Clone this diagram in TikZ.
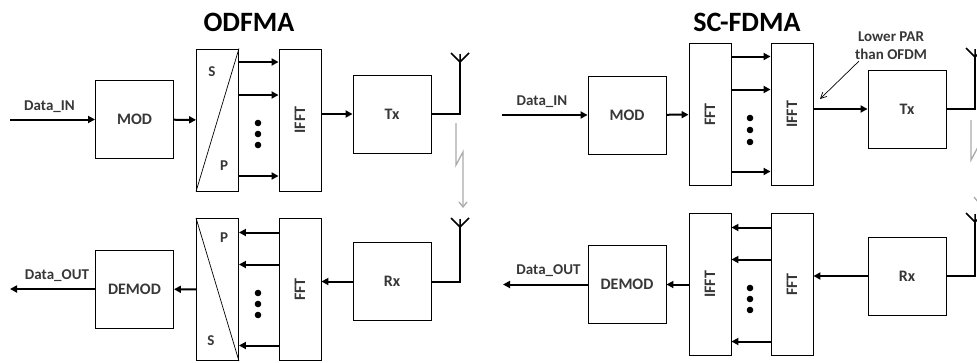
\documentclass[tikz,border=0pt]{standalone}
\usepackage{fontspec}
\setsansfont{Carlito}
\usepackage{graphicx}
\usepackage{tikz}
\usetikzlibrary{arrows.meta, positioning}
\definecolor{labelgray}{RGB}{55,55,55}
\definecolor{boltgray}{RGB}{170,170,170}
\tikzset{
    modblock/.style={rectangle, draw, line width=0.9pt, minimum width=78pt, minimum height=78pt, inner sep=0pt, font=\sffamily\bfseries\fontsize{16}{18}\selectfont, text=labelgray},
    fftblock/.style={rectangle, draw, line width=0.9pt, minimum width=42pt, minimum height=142pt, inner sep=0pt, font=\sffamily\bfseries\fontsize{16}{18}\selectfont, text=labelgray},
    sigarrow/.style={-{Triangle[length=7pt, width=7pt]}, line width=2pt},
    sigline/.style={line width=2pt},
    antarm/.style={line width=1.5pt},
    dataannot/.style={font=\sffamily\bfseries\fontsize{15}{18}\selectfont, text=labelgray, inner sep=0pt},
    spannot/.style={font=\sffamily\bfseries\fontsize{15}{17}\selectfont, text=labelgray, inner sep=0pt},
    titlelabel/.style={font=\sffamily\bfseries\fontsize{28}{30}\selectfont, inner sep=0pt},
    boltarrow/.style={-{Straight Barb[length=5pt, width=8pt]}, boltgray, line width=1.3pt},
    notearrow/.style={-{Straight Barb[length=6pt, width=6pt]}, line width=0.7pt}
}

\begin{document}
\begin{tikzpicture}[x=1pt, y=-1pt]
\useasboundingbox (0,0) rectangle (977,362);
\clip (0,0) rectangle (977,362);

\node[titlelabel] (ofdmatitle) at (249,22) {ODFMA};
\node[titlelabel] (scfdmatitle) at (747,22) {SC-FDMA};

% OFDMA transmitter
\coordinate (din1) at (10,119.5);
\node[dataannot] (din1lab) at (49.5,107) {Data\_IN};
\node[modblock] (mod1) at (134.5,119.5) {MOD};
\node[fftblock] (sp1) at (217.5,120) {};
\node[fftblock] (ifft1) at (300,120) {\rotatebox{90}{IFFT}};
\node[modblock] (tx1) at (392,114) {Tx};
\node[spannot] (sp1s) at (212,72) {S};
\node[spannot] (sp1p) at (224,166) {P};
\coordinate (ant1) at (460,62);

\draw[line width=0.7pt] (sp1.north east) -- (sp1.south west);
\draw[sigarrow] (din1) -- (mod1);
\draw[sigarrow] (mod1) -- (sp1);
\draw[sigarrow] ([yshift=58pt]sp1.east) -- ([yshift=58pt]ifft1.west);
\draw[sigarrow] ([yshift=25pt]sp1.east) -- ([yshift=25pt]ifft1.west);
\draw[sigarrow] ([yshift=-56pt]sp1.east) -- ([yshift=-56pt]ifft1.west);
\draw[sigarrow] (ifft1.east |- tx1.west) -- (tx1.west);
\draw[sigline] (tx1.east) -| (ant1);
\draw[antarm] (ant1) -- ++(-9,-9) (ant1) -- ++(9,-9) (ant1) -- ++(0,-8);
\fill (258,123) circle (3.3) (258,134) circle (3.3) (258,145) circle (3.3);

\draw[boltarrow] (456,123) -- (456,165) -- (463,152) -- (463,208);

% OFDMA receiver
\coordinate (dout1) at (10,289);
\node[dataannot] (dout1lab) at (57,276) {Data\_OUT};
\node[modblock] (demod1) at (134.5,289) {DEMOD};
\node[fftblock] (ps1) at (217.5,289.5) {};
\node[fftblock] (fft1) at (300,289.5) {\rotatebox{90}{FFT}};
\node[modblock] (rx1) at (392,281.5) {Rx};
\node[spannot] (ps1p) at (224,238) {P};
\node[spannot] (ps1s) at (211,341) {S};
\coordinate (ant2) at (460,227);

\draw[line width=0.7pt] (ps1.north west) -- (ps1.south east);
\draw[sigarrow] (demod1) -- (dout1);
\draw[sigarrow] (ps1) -- (demod1);
\draw[sigarrow] ([yshift=57pt]fft1.west) -- ([yshift=57pt]ps1.east);
\draw[sigarrow] ([yshift=25pt]fft1.west) -- ([yshift=25pt]ps1.east);
\draw[sigarrow] ([yshift=-56pt]fft1.west) -- ([yshift=-56pt]ps1.east);
\draw[sigarrow] (rx1.west) -- (fft1.east |- rx1.west);
\draw[sigline] (rx1.east) -| (ant2);
\draw[antarm] (ant2) -- ++(-9,-9) (ant2) -- ++(9,-9) (ant2) -- ++(0,-8);
\fill (258,293) circle (3.3) (258,304) circle (3.3) (258,315) circle (3.3);

% SC-FDMA transmitter
\coordinate (din2) at (502,115);
\node[dataannot] (din2lab) at (542,102) {Data\_IN};
\node[modblock] (mod2) at (627,115) {MOD};
\node[fftblock] (fft2) at (710,114.5) {\rotatebox{90}{FFT}};
\node[fftblock] (ifft2) at (792,114.5) {\rotatebox{90}{IFFT}};
\node[modblock] (tx2) at (907,109) {Tx};
\node[dataannot, align=center] (parnote) at (891,46) {Lower PAR\\than OFDM};
\coordinate (parpt) at (820,99);
\coordinate (ant3) at (975,57);

\draw[sigarrow] (din2) -- (mod2);
\draw[sigarrow] (mod2) -- (fft2);
\draw[sigarrow] ([yshift=58pt]fft2.east) -- ([yshift=58pt]ifft2.west);
\draw[sigarrow] ([yshift=25pt]fft2.east) -- ([yshift=25pt]ifft2.west);
\draw[sigarrow] ([yshift=-57pt]fft2.east) -- ([yshift=-57pt]ifft2.west);
\draw[sigarrow] (ifft2.east |- tx2.west) -- (tx2.west);
\draw[notearrow] ([xshift=4pt,yshift=-1pt]parnote.south west) -- (parpt);
\draw[sigline] (tx2.east) -| (ant3);
\draw[antarm] (ant3) -- ++(-9,-9) (ant3) -- ++(9,-9) (ant3) -- ++(0,-8);
\fill (750,118) circle (3.3) (750,130) circle (3.3) (750,142) circle (3.3);

\draw[boltarrow] (971,120) -- (971,160) -- (978,147) -- (978,203);

% SC-FDMA receiver
\coordinate (dout2) at (503,284.5);
\node[dataannot] (dout2lab) at (548.5,271) {Data\_OUT};
\node[modblock] (demod2) at (627,284.5) {DEMOD};
\node[fftblock] (ifft3) at (710,284.5) {\rotatebox{90}{IFFT}};
\node[fftblock] (fft3) at (792,284.5) {\rotatebox{90}{FFT}};
\node[modblock] (rx2) at (907,276) {Rx};
\coordinate (ant4) at (975,222);

\draw[sigarrow] (demod2) -- (dout2);
\draw[sigarrow] (ifft3) -- (demod2);
\draw[sigarrow] ([yshift=57pt]fft3.west) -- ([yshift=57pt]ifft3.east);
\draw[sigarrow] ([yshift=25pt]fft3.west) -- ([yshift=25pt]ifft3.east);
\draw[sigarrow] ([yshift=-57pt]fft3.west) -- ([yshift=-57pt]ifft3.east);
\draw[sigarrow] (rx2.west) -- (fft3.east |- rx2.west);
\draw[sigline] (rx2.east) -| (ant4);
\draw[antarm] (ant4) -- ++(-9,-9) (ant4) -- ++(9,-9) (ant4) -- ++(0,-8);
\fill (750,288) circle (3.3) (750,299) circle (3.3) (750,310) circle (3.3);

\end{tikzpicture}
\end{document}
